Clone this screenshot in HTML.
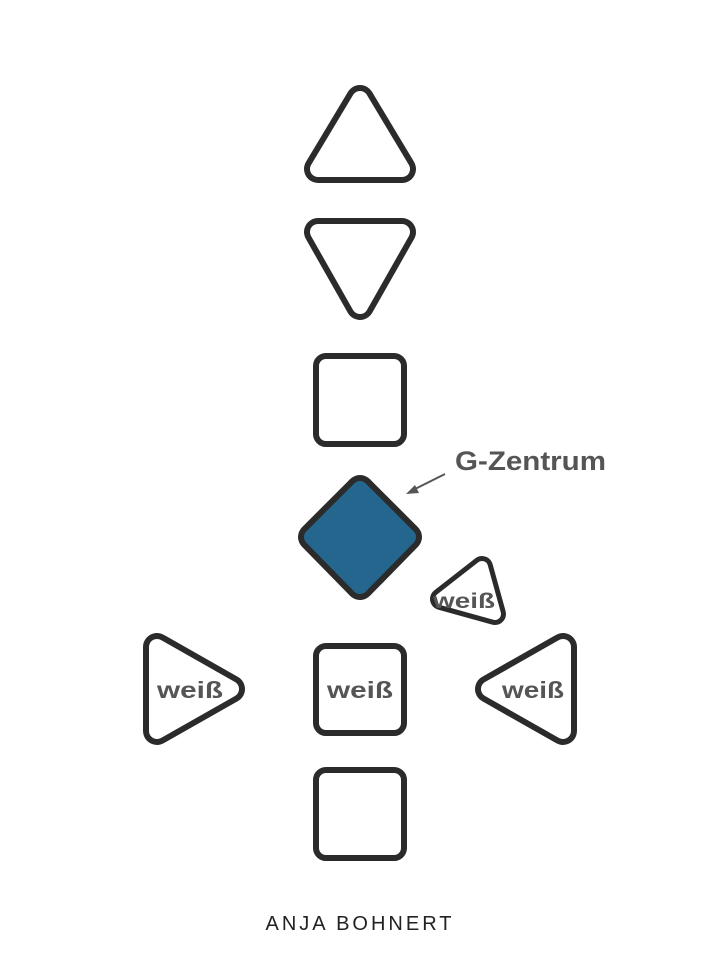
<!DOCTYPE html>
<html><head><meta charset="utf-8"><style>
html,body{margin:0;padding:0;background:#fff;}
svg{display:block;}
text{font-family:"Liberation Sans","DejaVu Sans",sans-serif;font-weight:bold;fill:#555;}
</style></head><body>
<svg width="720" height="960" viewBox="0 0 720 960" xmlns="http://www.w3.org/2000/svg">
<g stroke-linejoin="round">
 <polygon points="360,99 402,169 318,169" fill="none" stroke="#2b2b2b" stroke-width="28"/>
 <polygon points="360,99 402,169 318,169" fill="#fff" stroke="#fff" stroke-width="16"/>
 <polygon points="318,232 402,232 360,306" fill="none" stroke="#2b2b2b" stroke-width="28"/>
 <polygon points="318,232 402,232 360,306" fill="#fff" stroke="#fff" stroke-width="16"/>
 <polygon points="360,489 408,537 360,586 312,537" fill="none" stroke="#2b2b2b" stroke-width="28"/>
 <polygon points="360,489 408,537 360,586 312,537" fill="#25668f" stroke="#25668f" stroke-width="16"/>
 <polygon points="482,567 441,599 495,614" fill="none" stroke="#2b2b2b" stroke-width="22"/>
 <polygon points="482,567 441,599 495,614" fill="#fff" stroke="#fff" stroke-width="12"/>
 <polygon points="157,647 157,731 231,689" fill="none" stroke="#2b2b2b" stroke-width="28"/>
 <polygon points="157,647 157,731 231,689" fill="#fff" stroke="#fff" stroke-width="16"/>
 <polygon points="563,647 563,731 489,689" fill="none" stroke="#2b2b2b" stroke-width="28"/>
 <polygon points="563,647 563,731 489,689" fill="#fff" stroke="#fff" stroke-width="16"/>
</g>
<rect x="316" y="356" width="88" height="88" rx="10" fill="#fff" stroke="#2b2b2b" stroke-width="6"/>
<rect x="316" y="646" width="88" height="87" rx="10" fill="#fff" stroke="#2b2b2b" stroke-width="6"/>
<rect x="316" y="770" width="88" height="88" rx="10" fill="#fff" stroke="#2b2b2b" stroke-width="6"/>

<text x="455" y="470" font-size="27" textLength="151" lengthAdjust="spacingAndGlyphs">G-Zentrum</text>
<line x1="445" y1="474" x2="413" y2="490" stroke="#555" stroke-width="2"/>
<polygon points="406,494 415,485 419,493" fill="#555"/>

<text x="433" y="608" font-size="21" textLength="62" lengthAdjust="spacingAndGlyphs">weiß</text>
<text x="157" y="698" font-size="23" textLength="66" lengthAdjust="spacingAndGlyphs">weiß</text>
<text x="327" y="698" font-size="23" textLength="66" lengthAdjust="spacingAndGlyphs">weiß</text>
<text x="502" y="698" font-size="23" textLength="62" lengthAdjust="spacingAndGlyphs">weiß</text>

<text x="360" y="930" font-size="20" text-anchor="middle" letter-spacing="3" style="font-weight:normal;fill:#222">ANJA BOHNERT</text>
</svg>
</body></html>
